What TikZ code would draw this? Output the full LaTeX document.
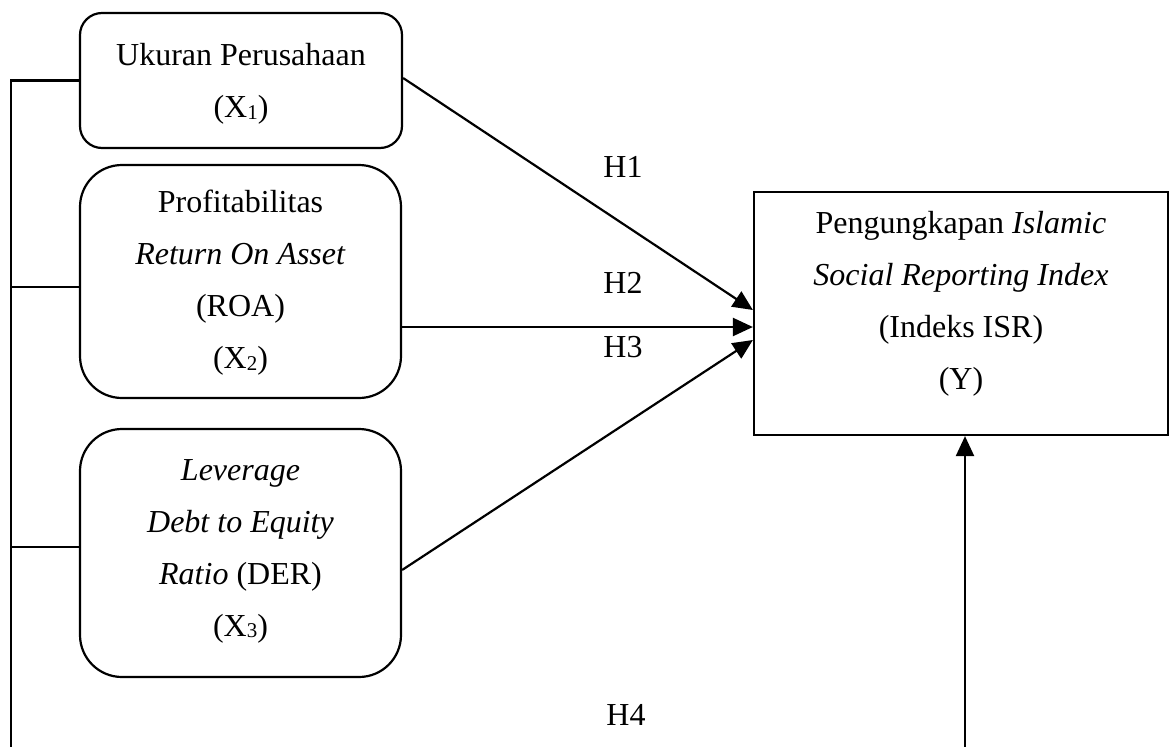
\documentclass[tikz,border=0pt]{standalone}
\usepackage{fontspec}
\setmainfont{Liberation Serif}
\usetikzlibrary{arrows.meta}
\newcommand{\subnum}[1]{\raisebox{-1.5pt}{\fontsize{21}{21}\selectfont #1}}
\begin{document}
\begin{tikzpicture}[x=1pt,y=-1pt,
  box/.style={draw,line width=2.2pt,inner sep=0pt},
  txt/.style={align=center,font=\fontsize{32}{52}\selectfont,inner sep=0pt},
  lab/.style={font=\fontsize{32}{38}\selectfont,inner sep=0pt},
  conn/.style={line width=2.2pt},
  arr/.style={line width=2.2pt,-{Triangle[length=20pt,width=18pt]}}]
\useasboundingbox (0,0) rectangle (1173,747);
% boxes
\node[box,rounded corners=22pt,minimum width=322pt,minimum height=135pt] (X1) at (241,80.5) {};
\node[box,rounded corners=42pt,minimum width=321pt,minimum height=233pt] (X2) at (240.5,281.5) {};
\node[box,rounded corners=42pt,minimum width=321pt,minimum height=248pt] (X3) at (240.5,553) {};
\node[box,minimum width=414pt,minimum height=243pt] (Y) at (961,313.5) {};
% texts
\node[txt] (t1) at (241,84) {Ukuran Perusahaan\\(X\subnum{1})};
\node[txt] (t2) at (240.5,283) {Profitabilitas\\\textit{Return On Asset}\\(ROA)\\(X\subnum{2})};
\node[txt] (t3) at (240.5,551) {\textit{Leverage}\\\textit{Debt to Equity}\\\textit{Ratio} (DER)\\(X\subnum{3})};
\node[txt] (tY) at (961,304) {Pengungkapan \textit{Islamic}\\\textit{Social Reporting Index}\\(Indeks ISR)\\(Y)};
% labels
\node[lab] (h1) at (623,167) {H1};
\node[lab] (h2) at (623,283) {H2};
\node[lab] (h3) at (623,347) {H3};
\node[lab] (h4) at (626,715) {H4};
% connectors
\coordinate (L) at (11,747);
\coordinate (B) at (965,747);
\draw[conn] (X1.west) -| (L);
\draw[conn] ([yshift=-5.5pt]X2.west) -- ([yshift=-5.5pt]X2.west -| L);
\draw[conn] ([yshift=6pt]X3.west) -- ([yshift=6pt]X3.west -| L);
\draw[arr] ([yshift=2.5pt]X1.east) -- ([yshift=3.5pt]Y.west);
\draw[arr] ([yshift=-45.5pt]X2.east) -- ([yshift=-13.5pt]Y.west);
\draw[arr] ([yshift=-17pt]X3.east) -- ([yshift=-26.5pt]Y.west);
\draw[arr] (B) -- (B |- Y.south);
\end{tikzpicture}
\end{document}
